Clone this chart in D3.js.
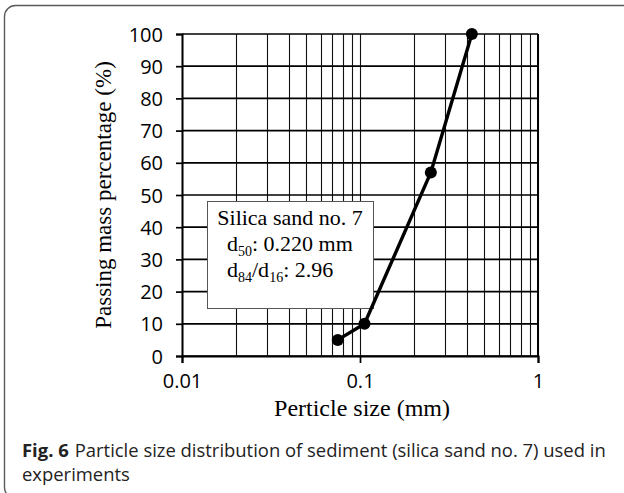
<!DOCTYPE html>
<html>
<head>
<meta charset="utf-8">
<script src="https://cdn.jsdelivr.net/npm/d3@7"></script>
<style>
  body { margin: 0; background: #fff; }
  svg { display: block; }
</style>
</head>
<body>
<div id="chart"></div>
<script>
// data
const sizes = [0.075, 0.106, 0.25, 0.425];     // particle size (mm)
const passing = [5, 10, 57, 100];              // passing mass percentage (%)
const xTicks = [0.01, 0.1, 1];
const xTickLabels = ["0.01", "0.1", "1"];
const yTicks = [0, 10, 20, 30, 40, 50, 60, 70, 80, 90, 100];
const boxTitle = "Silica sand no. 7";
const captionBold = "Fig. 6";
const captionText = "Particle size distribution of sediment (silica sand no. 7) used in";
const captionText2 = "experiments";

const W = 624, H = 493;
const plot = {left: 182, right: 538, top: 34, bottom: 356};

const svg = d3.select("#chart").append("svg")
    .attr("width", W)
    .attr("height", H);

// outer frame (right and bottom edges run off the picture)
svg.append("rect")
    .attr("x", 4.5).attr("y", 5.5)
    .attr("width", 660).attr("height", 493)
    .attr("rx", 11).attr("ry", 11)
    .attr("fill", "none")
    .attr("stroke", "#5a5a5a")
    .attr("stroke-width", 1.4);

const x = d3.scaleLog()
    .domain([0.01, 1])
    .range([plot.left, plot.right]);
const y = d3.scaleLinear()
    .domain([0, 100])
    .range([plot.bottom, plot.top]);

const g = svg.append("g");

// vertical grid (log minor + major)
g.append("g").selectAll("line")
    .data(x.ticks())
    .enter().append("line")
    .attr("x1", d => Math.round(x(d)) + 0.5).attr("x2", d => Math.round(x(d)) + 0.5)
    .attr("y1", plot.top).attr("y2", plot.bottom)
    .attr("stroke", "#111")
    .attr("stroke-width", 1.1);

// horizontal grid
g.append("g").selectAll("line")
    .data(yTicks)
    .enter().append("line")
    .attr("x1", plot.left).attr("x2", plot.right)
    .attr("y1", d => y(d)).attr("y2", d => y(d))
    .attr("stroke", "#000")
    .attr("stroke-width", 1.7);

// right border
g.append("line")
    .attr("x1", plot.right).attr("x2", plot.right)
    .attr("y1", plot.top).attr("y2", plot.bottom)
    .attr("stroke", "#000").attr("stroke-width", 2);

// axes
const yAxis = g.append("g")
    .attr("transform", "translate(" + plot.left + ",0)")
    .call(d3.axisLeft(y).tickValues(yTicks).tickSize(6).tickPadding(13).tickFormat(d3.format("d")));
const xAxis = g.append("g")
    .attr("transform", "translate(0," + plot.bottom + ")")
    .call(d3.axisBottom(x).tickValues(xTicks).tickSize(7).tickPadding(8)
        .tickFormat((d, i) => xTickLabels[i]));

[yAxis, xAxis].forEach(a => {
    a.select(".domain").attr("stroke", "#000").attr("stroke-width", 2);
    a.selectAll(".tick line").attr("stroke", "#000").attr("stroke-width", 1.7);
    a.selectAll("text")
        .attr("fill", "#000")
        .style("font-family", "'Open Sans', sans-serif")
        .style("font-size", "20px");
});
xAxis.selectAll("text").attr("dy", "0.85em");
yAxis.selectAll("text").attr("dy", "0.35em");

// annotation box
const box = g.append("g");
box.append("rect")
    .attr("x", 207.5).attr("y", 201.5)
    .attr("width", 166).attr("height", 107)
    .attr("fill", "#fff")
    .attr("stroke", "#555")
    .attr("stroke-width", 1);
const serif = "'Liberation Serif', 'Times New Roman', serif";
box.append("text")
    .attr("x", 290).attr("y", 225)
    .attr("text-anchor", "middle")
    .style("font-family", serif).style("font-size", "22px")
    .text(boxTitle);
const l2 = box.append("text")
    .attr("x", 227).attr("y", 251)
    .style("font-family", serif).style("font-size", "22px");
l2.append("tspan").text("d");
l2.append("tspan").attr("dy", 5).style("font-size", "14px").text("50");
l2.append("tspan").attr("dy", -5).text(": 0.220 mm");
const l3 = box.append("text")
    .attr("x", 227).attr("y", 277)
    .style("font-family", serif).style("font-size", "22px");
l3.append("tspan").text("d");
l3.append("tspan").attr("dy", 5).style("font-size", "14px").text("84");
l3.append("tspan").attr("dy", -5).text("/d");
l3.append("tspan").attr("dy", 5).style("font-size", "14px").text("16");
l3.append("tspan").attr("dy", -5).text(": 2.96");

// data line and markers
const pts = sizes.map((s, i) => ({s: s, p: passing[i]}));
g.append("path")
    .datum(pts)
    .attr("d", d3.line().x(d => x(d.s)).y(d => y(d.p)))
    .attr("fill", "none")
    .attr("stroke", "#000")
    .attr("stroke-width", 3.4);
g.selectAll("circle.pt")
    .data(pts)
    .enter().append("circle")
    .attr("class", "pt")
    .attr("cx", d => x(d.s)).attr("cy", d => y(d.p))
    .attr("r", 6)
    .attr("fill", "#000");

// axis titles
svg.append("text")
    .attr("x", (plot.left + plot.right) / 2 + 2).attr("y", 416)
    .attr("text-anchor", "middle")
    .style("font-family", serif).style("font-size", "24px")
    .text("Perticle size (mm)");
svg.append("text")
    .attr("transform", "translate(111," + ((plot.top + plot.bottom) / 2) + ") rotate(-90)")
    .attr("text-anchor", "middle")
    .style("font-family", serif).style("font-size", "23px")
    .text("Passing mass percentage (%)");

// caption
const cap = svg.append("text")
    .attr("x", 22).attr("y", 457)
    .style("font-family", "'Open Sans', sans-serif")
    .style("font-size", "15px")
    .attr("fill", "#222");
cap.append("tspan").style("font-weight", "bold").text(captionBold);
cap.append("tspan").attr("dx", 6).text(captionText);
const want = 578;
const got = cap.node().getComputedTextLength();
const fs = 15 * want / got;
cap.style("font-size", fs + "px");
svg.append("text")
    .attr("x", 22).attr("y", 481)
    .style("font-family", "'Open Sans', sans-serif")
    .style("font-size", fs + "px")
    .attr("fill", "#222")
    .text(captionText2);
</script>
</body>
</html>
